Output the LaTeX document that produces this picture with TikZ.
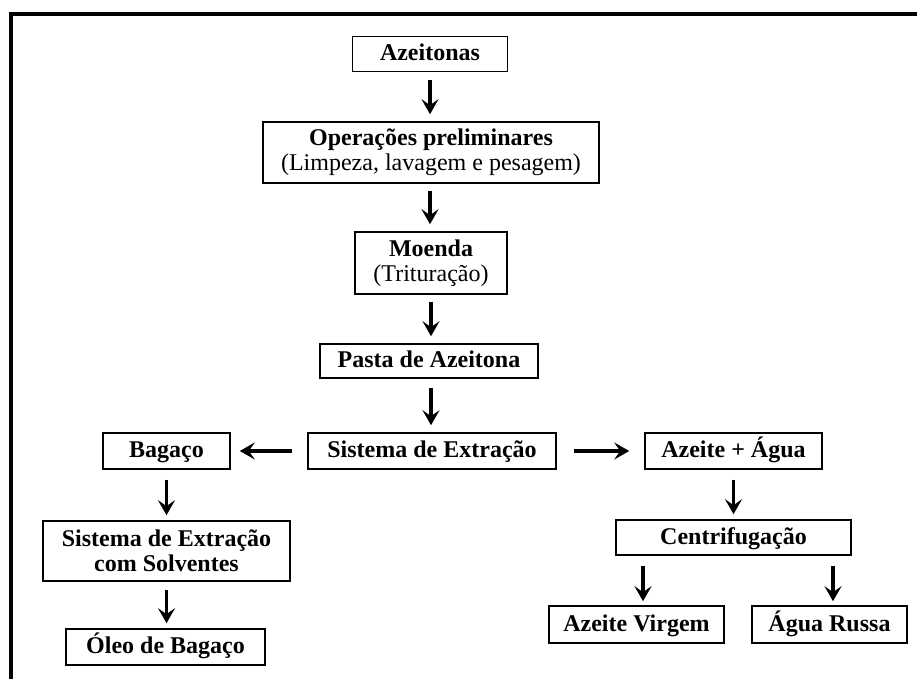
\documentclass[tikz,border=0pt]{standalone}
\usepackage{fontspec}
\setmainfont{Liberation Serif}
\usetikzlibrary{arrows.meta}
\begin{document}
\begin{tikzpicture}[x=1pt,y=-1pt,
  box/.style={draw,line width=1.6pt,inner sep=0pt,align=center,
    font=\fontsize{24}{25}\selectfont\bfseries},
  one/.style={box,text height=16pt,text depth=3pt},
  flow/.style={line width=3.8pt,-{Stealth[length=15pt,width=17pt,inset=6pt]}}]
\useasboundingbox (0,0) rectangle (917,679);
\draw[line width=3.5pt] (11,679) -- (11,14) -- (917,14);
\node[one,minimum width=155pt,minimum height=35pt] (az) at (430,54) {Azeitonas};
\node[box,minimum width=336pt,minimum height=61pt] (op) at (431,152.5) {Operações preliminares\\\mdseries(Limpeza, lavagem e pesagem)};
\node[box,minimum width=152pt,minimum height=62pt] (mo) at (431,263) {Moenda\\\mdseries(Trituração)};
\node[one,minimum width=218pt,minimum height=34pt] (pa) at (429,361) {Pasta de Azeitona};
\node[one,minimum width=248pt,minimum height=36pt] (se) at (432,451) {Sistema de Extração};
\node[one,minimum width=127pt,minimum height=36pt] (ba) at (166.5,451) {Bagaço};
\node[one,minimum width=177pt,minimum height=36pt] (aa) at (733.5,451) {Azeite + Água};
\node[one,minimum width=235pt,minimum height=35pt] (ce) at (733.5,537.5) {Centrifugação};
\node[one,minimum width=175pt,minimum height=37pt] (av) at (636.5,624.5) {Azeite Virgem};
\node[one,minimum width=155pt,minimum height=37pt] (ar) at (829.5,624.5) {Água Russa};
\node[box,minimum width=247pt,minimum height=60pt] (ss) at (166.5,551) {Sistema de Extração\\com Solventes};
\node[one,minimum width=199pt,minimum height=36pt] (ob) at (165.5,647) {Óleo de Bagaço};
\draw[flow,shorten <=8pt,shorten >=7pt] (az.south) -- (op.north -| az.south);
\draw[flow,shorten <=7pt,shorten >=7pt] (op.south -| az.south) -- (mo.north -| az.south);
\draw[flow,shorten <=7pt,shorten >=7pt] (mo.south) -- (pa.north -| mo.south);
\draw[flow,shorten <=9pt,shorten >=7pt] (pa.south -| mo.south) -- (se.north -| mo.south);
\draw[flow,shorten <=15pt,shorten >=9pt] (se.west) -- (ba.east);
\draw[flow,shorten <=17pt,shorten >=15pt] (se.east) -- (aa.west);
\draw[flow,shorten <=10pt,shorten >=5pt] (ba.south) -- (ss.north -| ba.south);
\draw[flow,shorten <=10pt,shorten >=5pt] (aa.south) -- (ce.north -| aa.south);
\draw[flow,shorten <=10pt,shorten >=4pt] (ce.south -| 643,0) -- (av.north -| 643,0);
\draw[flow,shorten <=10pt,shorten >=4pt] (ce.south -| 833,0) -- (ar.north -| 833,0);
\draw[flow,shorten <=8pt,shorten >=5pt] (ss.south) -- (ob.north -| ss.south);
\end{tikzpicture}
\end{document}
